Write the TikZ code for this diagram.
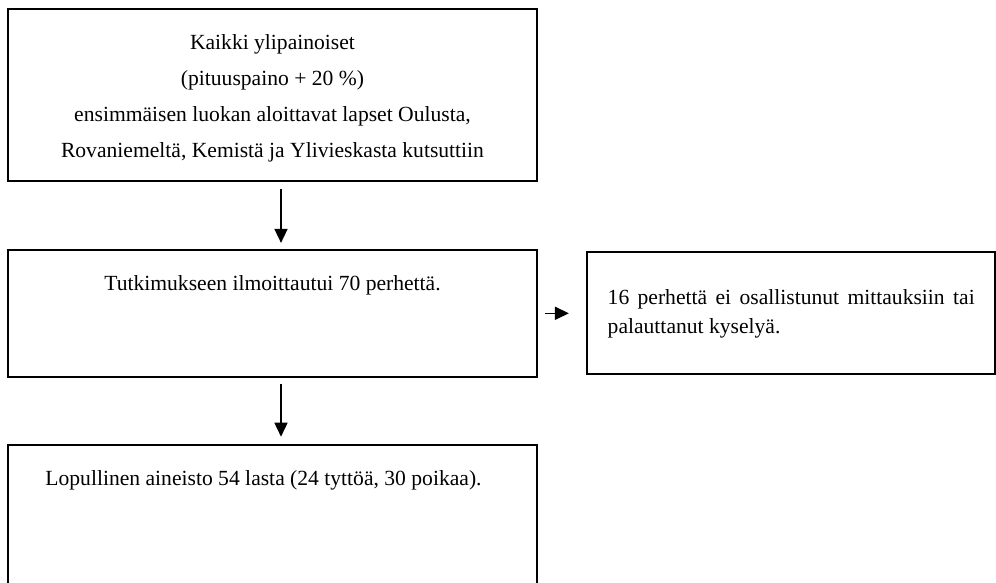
\documentclass[tikz,border=0pt]{standalone}
\usepackage{fontspec}
\setmainfont{Liberation Serif}
\usetikzlibrary{positioning}
\usetikzlibrary{arrows.meta}

\begin{document}
\begin{tikzpicture}[
            x=1pt, y=-1pt,
            >={Triangle[length=14pt, width=13pt]}, line width=1.6pt,
            box/.style={draw, rectangle, line width=1.8pt, inner sep=0pt, minimum width=529pt},
            sidebox/.style={draw, rectangle, line width=1.8pt, inner sep=0pt, minimum width=408pt, minimum height=122pt},
            txt/.style={inner sep=0pt, font=\fontsize{21.6}{36}\selectfont}
        ]
            \path[use as bounding box, clip] (0,0) rectangle (996,582);

            % Invited children
            \node[box, minimum height=172pt] (invited) at (272.5,95) {};
            \node[txt, align=center, below=26pt of invited.north] (invitedtxt) {Kaikki ylipainoiset\\(pituuspaino + 20 \%)\\ensimmäisen luokan aloittavat lapset Oulusta,\\Rovaniemeltä, Kemistä ja Ylivieskasta kutsuttiin};

            % Families
            \node[box, minimum height=127pt, below=67pt of invited] (families) {};
            \node[txt, anchor=base] (familiestxt) at ([yshift=-42pt]families.north) {Tutkimukseen ilmoittautui 70 perhettä.};

            % Dropped out
            \node[sidebox, right=48pt of families] (dropped) {};
            \node[txt, font=\fontsize{21.6}{29}\selectfont, text width=367pt, align=justify, anchor=north west] (droppedtxt) at ([xshift=21pt, yshift=-37pt]dropped.north west) {16 perhettä ei osallistunut mittauksiin tai palauttanut kyselyä.};

            % Final sample
            \node[box, minimum height=160pt, below=66pt of families] (final) {};
            \node[txt, anchor=base] (finaltxt) at ([xshift=-9pt, yshift=-42pt]final.north) {Lopullinen aineisto 54 lasta (24 tyttöä, 30 poikaa).};

            \draw[->, shorten <=7pt, shorten >=6pt] ([xshift=8.5pt]invited.south) -- ([xshift=8.5pt]families.north);
            \draw[->, shorten <=6pt, shorten >=7pt] ([xshift=8.5pt]families.south) -- ([xshift=8.5pt]final.north);
            \draw[->, shorten <=7pt, shorten >=17pt] (families) -- (dropped);
        \end{tikzpicture}
\end{document}
